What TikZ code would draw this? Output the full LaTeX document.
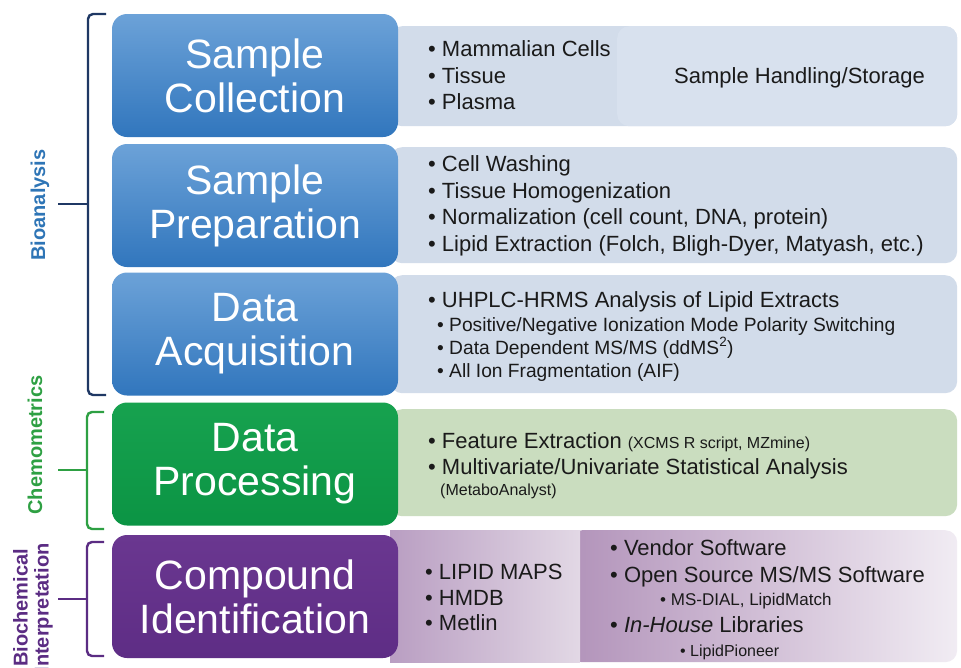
\documentclass[tikz,border=0pt]{standalone}
\usepackage{fontspec}
\setmainfont{Liberation Sans}
\definecolor{bluetop}{HTML}{6CA2D8}
\definecolor{bluebot}{HTML}{3176BD}
\definecolor{greentop}{HTML}{17A24F}
\definecolor{greenbot}{HTML}{0B9444}
\definecolor{purptop}{HTML}{6A3790}
\definecolor{purpbot}{HTML}{5E2D85}
\definecolor{bluepanel}{HTML}{D2DCEA}
\definecolor{bluepanelB}{HTML}{D8E1EE}
\definecolor{greenpanel}{HTML}{CADDBF}
\definecolor{purpA}{HTML}{B99EC2}
\definecolor{purpB}{HTML}{E2D8E5}
\definecolor{purpC}{HTML}{B293BA}
\definecolor{purpD}{HTML}{F1ECF3}
\definecolor{navy}{HTML}{1F3864}
\definecolor{biolabel}{HTML}{2E75B6}
\definecolor{chemgreen}{HTML}{2EA043}
\definecolor{purpline}{HTML}{5B2C83}
\definecolor{txt}{HTML}{1A1A1A}
\tikzset{
  stagebox/.style={rounded corners=15pt, minimum width=286pt, minimum height=123pt,
    inner sep=0pt, text=white, align=center, font=\fontsize{41}{44}\selectfont},
  panel/.style={rounded corners=12pt, inner sep=0pt, anchor=north west},
  item/.style={anchor=west, inner sep=0pt, text=txt, text height=16pt, text depth=0pt,
    font=\fontsize{22}{26}\selectfont},
  subitem/.style={anchor=west, inner sep=0pt, text=txt, text height=14pt, text depth=0pt,
    font=\fontsize{19.2}{22}\selectfont},
  smallitem/.style={anchor=west, inner sep=0pt, text=txt, text height=12pt, text depth=0pt,
    font=\fontsize{17}{20}\selectfont},
  tinyitem/.style={anchor=west, inner sep=0pt, text=txt, text height=12pt, text depth=0pt,
    font=\fontsize{16}{19}\selectfont},
  brk/.style={line width=2.4pt, rounded corners=5pt},
  grouplabel/.style={rotate=90, inner sep=0pt, align=center,
    font=\bfseries\fontsize{20}{21}\selectfont}
}
\begin{document}
\begin{tikzpicture}[x=1pt,y=-1pt]
\useasboundingbox (0,0) rectangle (961,667);
\fill[white] (0,0) rectangle (961,667);

% right panels
\node[panel, fill=bluepanel, minimum width=567pt, minimum height=100pt] (p1) at (390,26) {};
\node[panel, fill=bluepanelB, minimum width=340pt, minimum height=100pt] (p1b) at (617,26) {};
\node[panel, fill=bluepanel, minimum width=567pt, minimum height=116pt] (p2) at (390,147) {};
\node[panel, fill=bluepanel, minimum width=567pt, minimum height=118pt] (p3) at (390,275) {};
\node[panel, fill=greenpanel, minimum width=567pt, minimum height=107pt] (p4) at (390,409) {};
\node[panel, left color=purpC, right color=purpD, minimum width=387pt, minimum height=132pt] (p5b) at (570,530) {};
\node[panel, rounded corners=0pt, left color=purpA, right color=purpB, minimum width=190pt, minimum height=132pt] (p5a) at (390,530) {};

% stage boxes
\node[stagebox, top color=bluetop, bottom color=bluebot] (sc) at (255,75.5) {Sample\\Collection};
\node[stagebox, top color=bluetop, bottom color=bluebot] (sp) at (255,205.5) {Sample\\Preparation};
\node[stagebox, top color=bluetop, bottom color=bluebot] (da) at (255,334) {Data\\Acquisition};
\node[stagebox, top color=greentop, bottom color=greenbot] (dp) at (255,464) {Data\\Processing};
\node[stagebox, top color=purptop, bottom color=purpbot] (ci) at (255,596.5) {Compound\\Identification};

% row 1
\node[item] (t11) at (428,48) {• Mammalian Cells};
\node[item] (t12) at (428,75) {• Tissue};
\node[item] (t13) at (428,101) {• Plasma};
\node[item] (t14) at (674,75) {Sample Handling/Storage};
% row 2
\node[item] (t21) at (428,163) {• Cell Washing};
\node[item] (t22) at (428,190) {• Tissue Homogenization};
\node[item] (t23) at (428,216) {• Normalization (cell count, DNA, protein)};
\node[item] (t24) at (428,243) {• Lipid Extraction (Folch, Bligh-Dyer, Matyash, etc.)};
% row 3
\node[item] (t31) at (428,299) {• UHPLC-HRMS Analysis of Lipid Extracts};
\node[subitem] (t32) at (437,324) {• Positive/Negative Ionization Mode Polarity Switching};
\node[subitem] (t33) at (437,347) {• Data Dependent MS/MS (ddMS\textsuperscript{2})};
\node[subitem] (t34) at (437,370) {• All Ion Fragmentation (AIF)};
% row 4
\node[item] (t41) at (428,440) {• Feature Extraction {\fontsize{16}{19}\selectfont(XCMS R script, MZmine)}};
\node[item] (t42) at (428,466) {• Multivariate/Univariate Statistical Analysis};
\node[tinyitem] (t43) at (440,489) {(MetaboAnalyst)};
% row 5
\node[item] (t51) at (425,571) {• LIPID MAPS};
\node[item] (t52) at (425,597) {• HMDB};
\node[item] (t53) at (425,622) {• Metlin};
\node[item] (t54) at (610,547) {• Vendor Software};
\node[item] (t55) at (610,574) {• Open Source MS/MS Software};
\node[smallitem] (t56) at (660,599) {• MS-DIAL, LipidMatch};
\node[item] (t57) at (610,624) {• \textit{In-House} Libraries};
\node[tinyitem] (t58) at (680,650) {• LipidPioneer};

% brackets
\coordinate (b1t) at (106,14);
\coordinate (b1b) at (106,395);
\coordinate (b1m) at (58,204);
\draw[brk, navy] (b1t) -- (88,14) -- (88,395) -- (b1b);
\draw[line width=2.4pt, navy] (88,204) -- (b1m);
\node[grouplabel, text=biolabel] (bio) at (40,205) {Bioanalysis};

\coordinate (b2t) at (104,412);
\coordinate (b2b) at (104,529);
\coordinate (b2m) at (58,470);
\draw[brk, chemgreen] (b2t) -- (87,412) -- (87,529) -- (b2b);
\draw[line width=2.4pt, chemgreen] (87,470) -- (b2m);
\node[grouplabel, text=chemgreen] (chem) at (35,445) {Chemometrics};

\coordinate (b3t) at (104,542);
\coordinate (b3b) at (104,656);
\coordinate (b3m) at (58,599);
\draw[brk, purpline] (b3t) -- (87,542) -- (87,656) -- (b3b);
\draw[line width=2.4pt, purpline] (87,599) -- (b3m);
\node[grouplabel, text=purpline] (bci) at (33,608) {Biochemical\\Interpretation};
\end{tikzpicture}
\end{document}
